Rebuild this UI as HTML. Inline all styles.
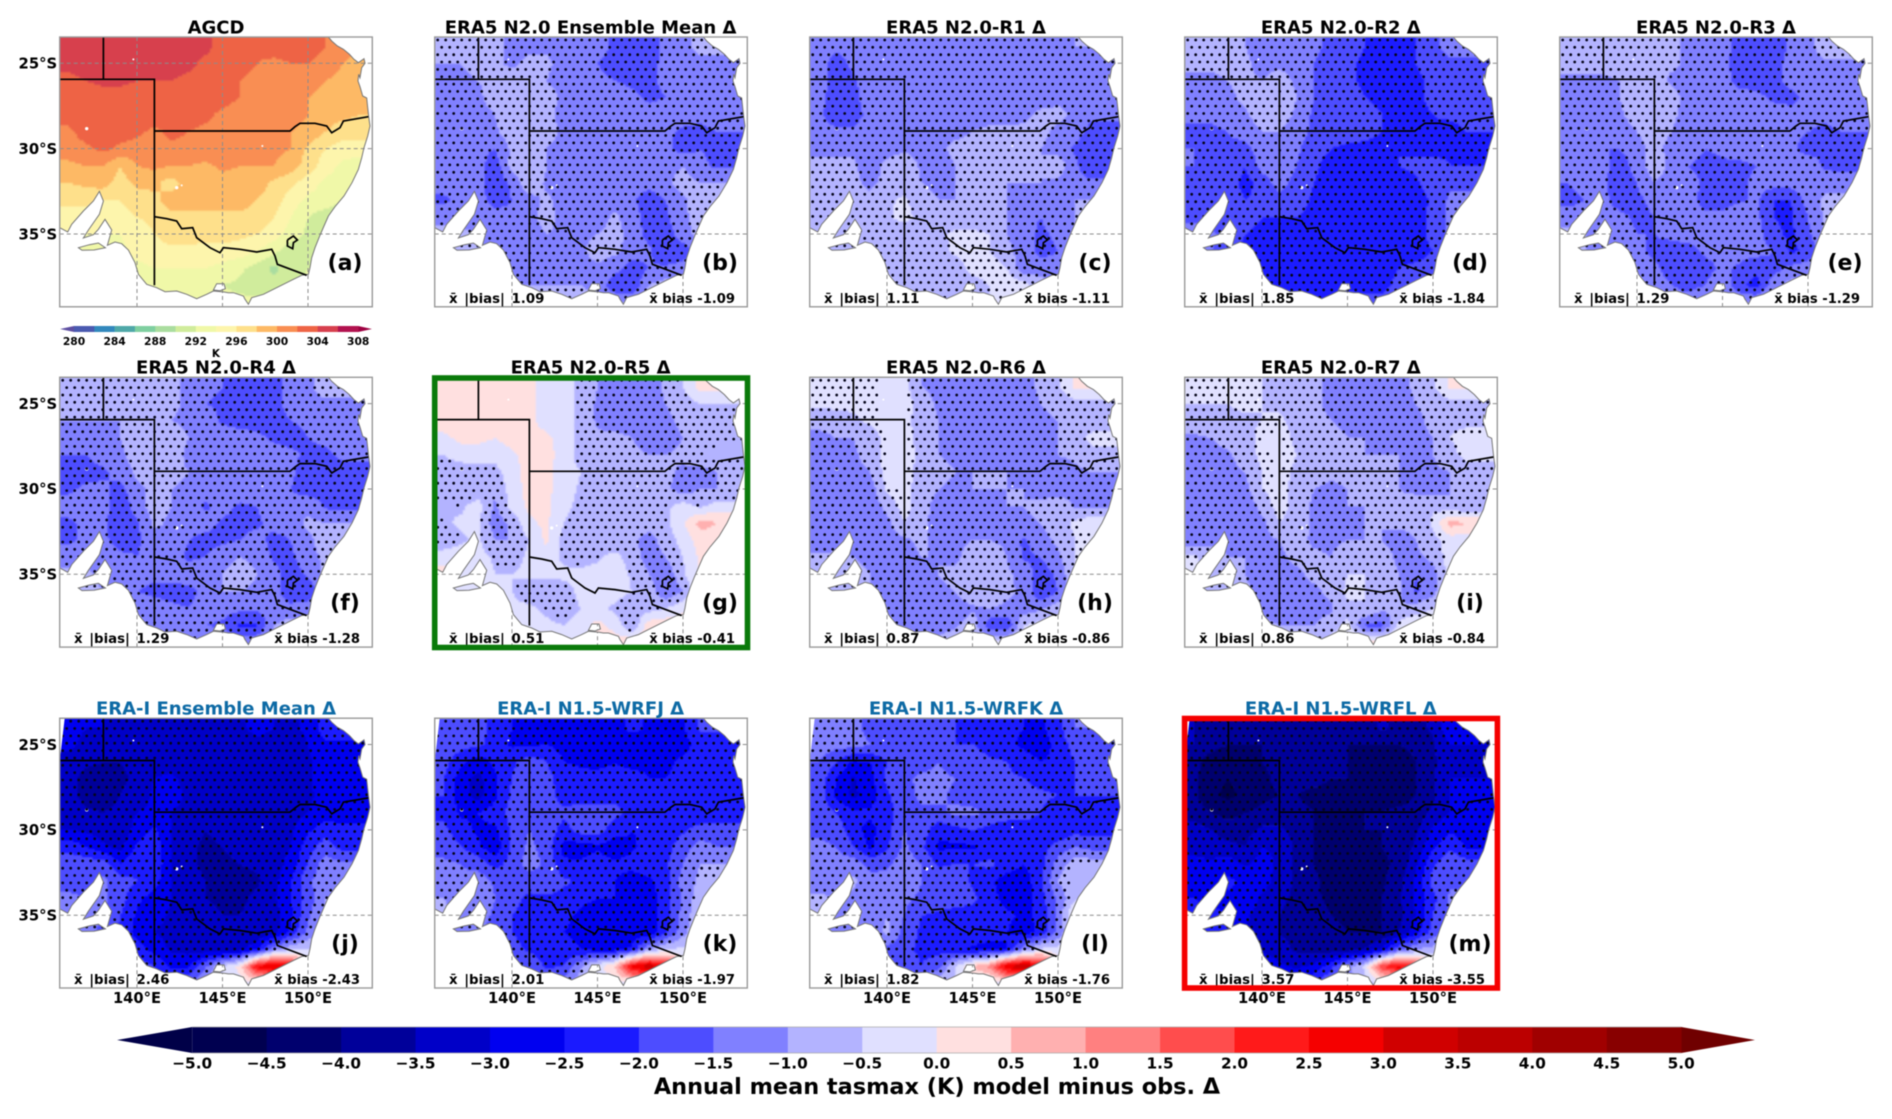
<!DOCTYPE html>
<html lang="en">
<head>
<meta charset="utf-8">
<title>Annual mean tasmax model minus obs</title>
<style>
html,body{margin:0;padding:0;background:#fff;width:1892px;height:1119px;overflow:hidden}
svg{display:block;filter:blur(.55px)}
text{font-family:"DejaVu Sans","Liberation Sans",sans-serif;font-weight:700;fill:#000}
.t{font-size:18px;text-anchor:middle}
.tb{font-size:18px;text-anchor:middle;fill:#0d6aa5}
.bl{font-size:13.3px;word-spacing:2px}
.br{font-size:13.1px;text-anchor:end}
.let{font-size:22px;text-anchor:middle}
.lat{font-size:14.8px;text-anchor:end}
.lon{font-size:14.7px;text-anchor:middle}
</style>
</head>
<body>
<svg id="fig" xmlns="http://www.w3.org/2000/svg" width="1892" height="1119" viewBox="0 0 1892 1119">
<rect width="1892" height="1119" fill="#fff"/>
<defs>
<clipPath id="landClip"><path id="landClipPath" clip-rule="evenodd"/></clipPath>
<filter id="soft" x="-2%" y="-2%" width="104%" height="104%"><feGaussianBlur stdDeviation="0.9"/></filter>
</defs>
<g id="panels"></g>

<text class="t" x="216" y="33.5">AGCD</text>
<text class="t" x="590.6" y="33.5">ERA5 N2.0 Ensemble Mean Δ</text>
<text class="t" x="966" y="33.5">ERA5 N2.0-R1 Δ</text>
<text class="t" x="1340.8" y="33.5">ERA5 N2.0-R2 Δ</text>
<text class="t" x="1716" y="33.5">ERA5 N2.0-R3 Δ</text>
<text class="t" x="216" y="373.5">ERA5 N2.0-R4 Δ</text>
<text class="t" x="590.6" y="373.5">ERA5 N2.0-R5 Δ</text>
<text class="t" x="966" y="373.5">ERA5 N2.0-R6 Δ</text>
<text class="t" x="1340.8" y="373.5">ERA5 N2.0-R7 Δ</text>
<text class="tb" x="216" y="714.5">ERA-I Ensemble Mean Δ</text>
<text class="tb" x="590.6" y="714.5">ERA-I N1.5-WRFJ Δ</text>
<text class="tb" x="966" y="714.5">ERA-I N1.5-WRFK Δ</text>
<text class="tb" x="1340.8" y="714.5">ERA-I N1.5-WRFL Δ</text>

<text class="let" x="345" y="270">(a)</text>
<text class="let" x="720" y="270">(b)</text>
<text class="let" x="1095" y="270">(c)</text>
<text class="let" x="1470" y="270">(d)</text>
<text class="let" x="1845" y="270">(e)</text>
<text class="let" x="345" y="610">(f)</text>
<text class="let" x="720" y="610">(g)</text>
<text class="let" x="1095" y="610">(h)</text>
<text class="let" x="1470" y="610">(i)</text>
<text class="let" x="345" y="951">(j)</text>
<text class="let" x="720" y="951">(k)</text>
<text class="let" x="1095" y="951">(l)</text>
<text class="let" x="1470" y="951">(m)</text>

<text class="bl" x="449" y="303">x̄ |bias| 1.09</text><text class="br" x="735" y="303">x̄ bias -1.09</text>
<text class="bl" x="824" y="303">x̄ |bias| 1.11</text><text class="br" x="1110" y="303">x̄ bias -1.11</text>
<text class="bl" x="1199" y="303">x̄ |bias| 1.85</text><text class="br" x="1485" y="303">x̄ bias -1.84</text>
<text class="bl" x="1574" y="303">x̄ |bias| 1.29</text><text class="br" x="1860" y="303">x̄ bias -1.29</text>
<text class="bl" x="74" y="643">x̄ |bias| 1.29</text><text class="br" x="360" y="643">x̄ bias -1.28</text>
<text class="bl" x="449" y="643">x̄ |bias| 0.51</text><text class="br" x="735" y="643">x̄ bias -0.41</text>
<text class="bl" x="824" y="643">x̄ |bias| 0.87</text><text class="br" x="1110" y="643">x̄ bias -0.86</text>
<text class="bl" x="1199" y="643">x̄ |bias| 0.86</text><text class="br" x="1485" y="643">x̄ bias -0.84</text>
<text class="bl" x="74" y="984">x̄ |bias| 2.46</text><text class="br" x="360" y="984">x̄ bias -2.43</text>
<text class="bl" x="449" y="984">x̄ |bias| 2.01</text><text class="br" x="735" y="984">x̄ bias -1.97</text>
<text class="bl" x="824" y="984">x̄ |bias| 1.82</text><text class="br" x="1110" y="984">x̄ bias -1.76</text>
<text class="bl" x="1199" y="984">x̄ |bias| 3.57</text><text class="br" x="1485" y="984">x̄ bias -3.55</text>

<text x="216" y="357" font-size="10.5" text-anchor="middle">K</text>
<text x="937" y="1094" font-size="22.4" text-anchor="middle">Annual mean tasmax (K) model minus obs. Δ</text>

<rect x="434.7" y="378" width="312.8" height="269.5" fill="none" stroke="#0a7a0a" stroke-width="5.6"/>
<rect x="1184.6" y="718.5" width="312.8" height="269.5" fill="none" stroke="#f50000" stroke-width="5.6"/>
</svg>

<script>
// Gridded values: rows run 24S to 39S, columns run 136E to 153E (one degree apart)
const fieldA=[
[305,305,305,305,305,305,305,305,304.5,303.3,303,302.5,303,303,303,302,301,300],
[304.5,305,305,305,305,305,305,304.5,303.5,303,302.5,302,301.5,302,302,301,300,299],
[303.5,304,304.5,304.5,304,304,304,303.5,303,302.8,302,301.5,301,301,300.5,300,299.5,299],
[303,303,303,303,303,303,303,303,303,302.8,302,301,301,300.5,300,299.5,298.5,298],
[303,303,303,303,303,303,302.5,303,302.5,301.5,301,301,301,300.5,300,299,298.5,298],
[301.5,303,303,303,302.5,301.5,302.5,302,301.5,301,301,301,300.5,300,299.5,298,297,297],
[301,301.5,302.5,301.5,301,301,301.5,301.5,301.5,301.5,301,301,300.5,300,297.5,296,295,295],
[299.5,300,300,298,300,300.5,300,300,299.5,300.5,300,300,300,299,297,295,293.5,293],
[298,298.5,299,297,298.5,298.5,297,299,299,299,299,299,297.5,296.5,295,293.5,293,293],
[296.5,296.5,296,296,297,297.5,299,299,299,299,299,298,297,295,293.5,293,292,292],
[295,295,295,295,296,296.5,297.5,297.5,297.5,297.5,297.5,297,296,294,292,291,291,291],
[294,294,294,294,295,296,297,297,297,297,296.5,296,295,293,291.5,291.5,291.5,291.5],
[293,293,293,293.5,294.5,295,295.5,295.5,295,295,295,294,292.5,290.5,291.5,292,292,292],
[293,293,293,293,293.5,294,294,294,294,293.5,292.5,291,289.5,291,292,292,292,292],
[293,293,293,293,293,293.5,293,293,292.5,292,291.5,291,290.5,292,292.5,292.5,292.5,292.5],
[292.5,292.5,292.5,292.5,292.5,292.5,292.5,292.5,292.5,292.5,292.5,292.5,292.5,292.5,292.5,292.5,292.5,292.5]];
const fieldB=[
[-.9,-.9,-.9,-.9,-1.1,-1.1,-1.1,-1.1,-1.2,-1.3,-1.6,-1.9,-1.7,-1.4,-1.2,-.8,-.8,-.8],
[-1,-1,-.9,-.9,-1.1,-.9,-.9,-1.2,-1.3,-1.5,-1.7,-1.7,-1.5,-1.5,-1.3,-1.2,-1.2,-1.2],
[-1.1,-1.1,-1,-.9,-.8,-.8,-1,-1.2,-1.3,-1.4,-1.5,-1.6,-1.6,-1.4,-1.3,-1.3,-1.3,-1.3],
[-1.1,-1.1,-1.1,-.8,-.5,-.6,-.8,-1.1,-1.2,-1.3,-1.3,-1.4,-1.6,-1.5,-1.3,-1.3,-1.3,-1.3],
[-1.3,-1.3,-1.2,-1,-.5,-.5,-.8,-1.2,-1.2,-1.2,-1.2,-1.3,-1.3,-1.3,-1.3,-1.4,-1.3,-1.3],
[-1.4,-1.4,-1.3,-1.1,-.7,-.7,-.8,-1.1,-1.2,-1.2,-1.2,-1.2,-1.3,-1.4,-1.6,-1.6,-1.5,-1.5],
[-1.3,-1.4,-1.4,-1.5,-.9,-.7,-1,-1.2,-1.2,-1.2,-1.2,-1.3,-1.3,-1.4,-1.7,-1.5,-1.6,-1.6],
[-1.2,-1.3,-1.3,-1.8,-.8,-.5,-1,-1.2,-1.2,-1.3,-1.3,-1.3,-1.3,-1.2,-1,-1.4,-1.6,-1.6],
[-1.3,-1.2,-1.3,-1.9,-1.4,-.6,-1.1,-1.3,-1.3,-1.2,-1.3,-1.3,-1.3,-1.1,-.8,-1,-1,-1],
[-1.6,-1.4,-1.3,-1.7,-1.5,-1.2,-.9,-1.2,-1.3,-1.3,-1.2,-1.4,-1.8,-1.5,-1.1,-.7,-.8,-.8],
[-1.2,-1.2,-1.2,-1.3,-1.4,-1.2,-.8,-1.2,-1.3,-1.3,-.9,-1.3,-1.7,-1.6,-1.1,-.8,-.8,-.8],
[-.8,-.9,-1,-1.3,-1.3,-1.2,-1,-1.1,-1.1,-1,-.8,-1.2,-1.7,-1.8,-1.2,-.8,-.8,-.8],
[-.9,-.9,-1,-1.2,-1.3,-1.3,-1.4,-1.4,-1.1,-.8,-.9,-1.2,-1.4,-2,-1.8,-1.2,-.9,-.9],
[-.9,-.9,-1,-1.2,-1.2,-1.3,-1.3,-1.3,-1.2,-1.1,-1.3,-1.8,-1.5,-1.4,-1.3,-1.1,-.9,-.9],
[-.9,-.9,-.9,-1,-1,-1,-1,-1,-1,-1.1,-1.9,-2,-1,-.8,-.8,-.8,-.8,-.8],
[-.9,-.9,-.9,-.9,-.9,-.9,-.9,-.9,-.9,-.9,-1,-1,-.7,-.7,-.7,-.7,-.7,-.7]];
const fieldC=[
[-1.3,-1.4,-1.4,-1.2,-1.2,-1.5,-1.5,-1.5,-1.4,-1.3,-1.2,-1.2,-1.2,-1.2,-1.2,-1,-1,-1],
[-1.3,-1.7,-1.4,-1.2,-1.2,-1.3,-1.3,-1.3,-1.3,-1.3,-1.2,-1.5,-1.5,-1.3,-1.2,-1.2,-1.2,-1.2],
[-1.3,-1.7,-1.6,-1.2,-1.2,-1.2,-1.2,-1.3,-1.2,-1.2,-1.2,-1.4,-1.4,-1.2,-1.1,-1.2,-1.2,-1.2],
[-1.3,-1.8,-1.7,-1.2,-1.2,-1.2,-1.1,-1.3,-1.4,-1.2,-1.2,-1.2,-1.2,-1.2,-1.1,-1.2,-1.3,-1.3],
[-1.4,-1.8,-1.8,-1.3,-1.1,-1.2,-1.2,-1.3,-1.3,-1.2,-1.2,-1.2,-1.1,-.9,-.9,-1.1,-1.4,-1.4],
[-1.3,-1.4,-1.4,-1.2,-1.1,-1.1,-1.1,-1.1,-1.1,-1,-.9,-.9,-.9,-.9,-1.1,-1.3,-1.7,-1.7],
[-1.1,-1.1,-1.1,-1.2,-1.3,-1.1,-1.2,-1.1,-.9,-.9,-.9,-.9,-.9,-1,-1.2,-1.6,-1.9,-1.9],
[-.9,-.9,-.9,-1.3,-.8,-.6,-1.1,-1.2,-1,-.9,-.9,-1,-1,-1,-.7,-1.4,-1.9,-1.9],
[-.9,-.9,-.9,-1.1,-.9,-.8,-1,-1.1,-1,-.9,-1,-1,-1,-1,-1.1,-1.4,-1.4,-1.4],
[-1,-.9,-.9,-.9,-.6,-.4,-.9,-1,-1,-1,-1,-1,-1.3,-1.5,-1.2,-1,-1,-1],
[-.9,-.9,-.9,-1,-.6,-.3,-.7,-.9,-.8,-.8,-.9,-1,-1.4,-1.5,-1.2,-1,-1,-1],
[-.7,-.8,-.9,-.9,-1,-.9,-.7,-.6,-.4,-.4,-.5,-1,-1.3,-1.6,-1.4,-1,-1,-1],
[-.9,-.9,-.9,-.9,-.9,-.9,-.9,-.7,-.4,-.3,-.5,-.9,-1.2,-1.7,-1.5,-1.1,-1,-1],
[-.9,-.9,-.9,-.9,-.9,-.9,-.9,-.9,-.8,-.3,-.2,-.5,-1.4,-1.2,-1.3,-1.1,-1,-1],
[-.9,-.9,-.9,-.9,-.9,-.9,-.9,-.9,-.9,-.8,-.5,-.2,-.3,-.8,-1,-1,-1,-1],
[-.8,-.8,-.8,-.8,-.8,-.8,-.8,-.8,-.8,-.7,-.5,-.3,-.5,-.7,-.8,-.8,-.8,-.8]];
const fieldD=[
[-1,-1,-1,-1,-1.2,-1.2,-1.2,-1.4,-1.6,-1.8,-2,-2.2,-2.2,-2,-1.7,-1.2,-1.2,-1.2],
[-.9,-.9,-.9,-.9,-1.2,-1.1,-1.2,-1.5,-1.7,-1.9,-2.1,-2.2,-2.2,-2,-1.8,-1.7,-1.7,-1.7],
[-1.1,-1.1,-1,-.9,-1,-.8,-1.1,-1.5,-1.7,-1.9,-2.1,-2.2,-2.2,-2.1,-1.9,-1.8,-1.8,-1.8],
[-1.2,-1.2,-1.1,-.9,-.7,-.7,-1,-1.5,-1.7,-1.8,-2,-2.1,-2.2,-2.1,-1.9,-1.8,-1.8,-1.8],
[-1.4,-1.4,-1.3,-1.1,-.7,-.7,-1.1,-1.6,-1.7,-1.8,-1.9,-2,-2.1,-2.1,-2,-1.9,-1.8,-1.8],
[-1.6,-1.6,-1.5,-1.3,-1,-1,-1.3,-1.6,-1.8,-1.8,-1.9,-2,-2.1,-2.1,-2.1,-2.2,-2,-2],
[-1.5,-1.6,-1.6,-1.7,-1.2,-1,-1.4,-1.8,-2,-2.1,-2.1,-2.1,-2,-2.1,-2.2,-2.1,-2.1,-2.1],
[-1.5,-1.5,-1.5,-2,-1.3,-1,-1.5,-1.9,-2.2,-2.2,-2.2,-2.1,-2,-1.9,-1.8,-2,-2,-2],
[-1.9,-1.8,-1.7,-2.2,-1.8,-1.3,-1.7,-2,-2.2,-2.3,-2.3,-2.2,-2.2,-2.1,-1.7,-1.6,-1.6,-1.6],
[-2,-1.9,-1.7,-2,-1.9,-1.7,-1.7,-2.1,-2.2,-2.3,-2.2,-2.2,-2.4,-2.3,-1.9,-1.4,-1.4,-1.4],
[-1.6,-1.7,-1.7,-1.8,-2,-2,-2,-2.2,-2.3,-2.3,-2.1,-2.3,-2.45,-2.3,-1.8,-1.4,-1.4,-1.4],
[-1.3,-1.4,-1.7,-2,-2.2,-2.3,-2.3,-2.3,-2.2,-2.1,-2.1,-2.2,-2.3,-2.3,-1.8,-1.4,-1.4,-1.4],
[-1.5,-1.5,-1.7,-2.2,-2.4,-2.4,-2.4,-2.4,-2.3,-2.1,-2.2,-2.2,-2.2,-2.2,-2,-1.5,-1.4,-1.4],
[-1.5,-1.5,-1.7,-2,-2.4,-2.45,-2.45,-2.4,-2.4,-2.3,-2.4,-2.45,-2,-1.9,-1.8,-1.5,-1.4,-1.4],
[-1.5,-1.5,-1.5,-1.7,-2.3,-2.45,-2.45,-2.45,-2.3,-2.2,-2.3,-2.4,-1.7,-1.4,-1.4,-1.4,-1.4,-1.4],
[-1.5,-1.5,-1.5,-1.7,-1.9,-2,-2.2,-2.2,-2,-1.7,-1.7,-1.6,-1.3,-1.3,-1.3,-1.3,-1.3,-1.3]];
const fieldE=[
[-.9,-.8,-.8,-.8,-.8,-.9,-.9,-1.1,-1.2,-1.3,-1.7,-1.9,-1.8,-1.4,-1.2,-.7,-.7,-.7],
[-.8,-.8,-.8,-.8,-.8,-.9,-.9,-1.1,-1.2,-1.4,-1.7,-1.8,-1.6,-1.4,-1.2,-1.1,-1.1,-1.1],
[-1.1,-1.1,-1.1,-1,-.9,-.8,-1.1,-1.2,-1.2,-1.3,-1.7,-1.7,-1.6,-1.4,-1.3,-1.2,-1.2,-1.2],
[-1.3,-1.3,-1.2,-1,-.7,-.5,-.8,-1.2,-1.2,-1.2,-1.3,-1.4,-1.6,-1.6,-1.4,-1.3,-1.3,-1.3],
[-1.4,-1.4,-1.3,-1.1,-.7,-.5,-.9,-1.2,-1.2,-1.2,-1.2,-1.3,-1.3,-1.4,-1.4,-1.4,-1.3,-1.3],
[-1.5,-1.5,-1.4,-1.3,-1,-.9,-1,-1.2,-1.3,-1.3,-1.2,-1.2,-1.3,-1.4,-1.5,-1.6,-1.5,-1.5],
[-1.4,-1.5,-1.5,-1.5,-1.1,-.9,-1.1,-1.3,-1.5,-1.4,-1.3,-1.3,-1.3,-1.4,-1.7,-1.6,-1.7,-1.7],
[-1.3,-1.4,-1.3,-1.9,-1.2,-.8,-1.1,-1.5,-1.7,-1.6,-1.6,-1.5,-1.3,-1.3,-1.2,-1.6,-1.7,-1.7],
[-1.5,-1.3,-1.3,-2,-1.5,-1,-1.2,-1.3,-1.6,-1.7,-1.6,-1.4,-1.3,-1.3,-1,-1.2,-1.2,-1.2],
[-1.7,-1.5,-1.4,-1.7,-1.6,-1.4,-1.2,-1.3,-1.7,-1.7,-1.6,-1.4,-2,-2,-1.3,-.9,-.9,-.9],
[-1.2,-1.2,-1.3,-1.4,-1.6,-1.5,-1.3,-1.3,-1.4,-1.4,-1.1,-1.4,-2,-2.1,-1.5,-.9,-.9,-.9],
[-.9,-1,-1.1,-1.3,-1.5,-1.5,-1.4,-1.3,-1.3,-1.2,-1,-1.3,-1.9,-2.1,-1.6,-1,-1,-1],
[-1,-1,-1.1,-1.3,-1.4,-1.6,-1.7,-1.7,-1.4,-1.3,-1.3,-1.3,-1.5,-2.1,-1.9,-1.2,-1,-1],
[-1,-1,-1,-1.2,-1.3,-1.4,-1.7,-1.8,-1.7,-1.4,-1.6,-1.9,-1.7,-1.4,-1.2,-1.1,-1,-1],
[-1,-1,-1,-1.1,-1.2,-1.3,-1.5,-1.7,-1.5,-1.1,-1.9,-2.2,-1.2,-.8,-.9,-.9,-.9,-.9],
[-1,-1,-1,-1,-1,-1.1,-1.2,-1.2,-1,-.9,-1,-1,-.8,-.8,-.8,-.8,-.8,-.8]];
const fieldF=[
[-1,-1,-1,-.9,-.9,-.9,-.9,-1.1,-1.4,-1.5,-1.7,-1.9,-1.7,-1.3,-1.2,-.6,-.6,-.6],
[-1,-1,-1,-.9,-.9,-.9,-.9,-1.1,-1.5,-1.6,-1.6,-1.6,-1.6,-1.4,-1.3,-1.2,-1.2,-1.2],
[-1,-1,-1,-1,-.9,-.8,-1,-1.1,-1.2,-1.6,-1.7,-1.7,-1.6,-1.5,-1.4,-1.3,-1.3,-1.3],
[-1.1,-1.1,-1.1,-1,-.8,-.7,-.8,-1,-1.1,-1.2,-1.3,-1.4,-1.6,-1.7,-1.5,-1.4,-1.3,-1.3],
[-1.5,-1.5,-1.3,-1.1,-.8,-.7,-.8,-1.1,-1.1,-1.1,-1.2,-1.2,-1.3,-1.4,-1.6,-1.6,-1.4,-1.4],
[-1.7,-1.7,-1.6,-1.3,-.9,-.8,-.9,-1,-1.1,-1.1,-1.1,-1.2,-1.3,-1.4,-1.8,-1.8,-1.7,-1.7],
[-1.6,-1.4,-1.4,-1.7,-1.1,-.9,-1,-1.1,-1.3,-1.1,-1.1,-1.2,-1.3,-1.5,-1.8,-1.7,-1.8,-1.8],
[-1.3,-1.3,-1.2,-2,-1.2,-.8,-1,-1.2,-1.6,-1.3,-1.6,-1.5,-1.3,-1.3,-1.1,-1.6,-1.7,-1.7],
[-1.6,-1.4,-1.4,-1.9,-1.6,-.9,-1.1,-1.2,-1.3,-1.6,-1.7,-1.6,-1.3,-1.2,-.9,-1,-1,-1],
[-1.6,-1.4,-1.4,-1.7,-1.6,-1.2,-1.1,-1.5,-1.7,-1.6,-1.5,-1.3,-1.7,-1.5,-1.1,-.8,-.8,-.8],
[-1.2,-1.2,-1.2,-1.4,-1.5,-1.3,-1.3,-1.6,-1.5,-1.2,-1,-1.1,-1.6,-1.6,-1.2,-.9,-.9,-.9],
[-.9,-.9,-1.1,-1.3,-1.4,-1.4,-1.3,-1.2,-1.2,-1,-.8,-1,-1.3,-1.8,-1.4,-.9,-.9,-.9],
[-.9,-.9,-1,-1.3,-1.5,-1.6,-1.7,-1.7,-1.3,-1,-1,-1.1,-1.2,-2,-1.9,-1.2,-1,-1],
[-1,-1,-1,-1.2,-1.3,-1.3,-1.4,-1.5,-1.3,-1.3,-1.4,-1.4,-1.3,-1.3,-1.2,-1.1,-1,-1],
[-1,-1,-1,-1,-1.1,-1.2,-1.2,-1.4,-1.5,-1.6,-2.1,-2.1,-1,-.8,-.8,-.8,-.8,-.8],
[-.9,-.9,-.9,-.9,-1,-1,-1,-1,-1,-1,-1.1,-1.1,-.8,-.7,-.7,-.7,-.7,-.7]];
const fieldG=[
[.2,.2,.2,.2,.2,.1,-.2,-.3,-.6,-1,-1.4,-1.5,-1.3,-.9,-.5,.2,.2,.2],
[.2,.2,.2,.2,.2,.1,-.2,-.3,-.6,-1.1,-1.5,-1.5,-1.2,-1,-.8,-.5,-.5,-.5],
[.2,.2,.2,.2,.2,.1,-.2,-.3,-.6,-1.1,-1.2,-1.2,-1.3,-1.1,-.9,-.7,-.7,-.7],
[-.1,.1,.1,0,.2,.2,.1,-.2,-.7,-.9,-.9,-1,-1.2,-1.2,-1,-.6,-.6,-.6],
[-.5,-.2,-.2,-.3,-.1,.2,.1,-.1,-.8,-.9,-.9,-.9,-1,-1,-.9,-.6,-.5,-.5],
[-.9,-.9,-.8,-.7,-.2,.2,.1,-.2,-.5,-.8,-.8,-.8,-.8,-.9,-1.1,-1.2,-1,-1],
[-.8,-.9,-.8,-.9,-.3,.2,.1,-.2,-.6,-.7,-.7,-.8,-.8,-.9,-1.3,-1,-1,-1],
[-.5,-.6,-.3,-1.1,-.3,.1,.1,-.3,-.7,-.8,-.8,-.8,-.7,-.6,-.3,-.6,-.3,-.3],
[-.6,-.4,-.4,-1.3,-.9,-.1,.1,-.5,-.9,-.9,-.8,-.8,-.8,-.6,-.1,.7,.5,.5],
[-.9,-.6,-.4,-1,-1,-.5,.1,-.7,-.9,-.9,-.9,-.9,-1.2,-.8,-.3,.2,.2,.2],
[-.2,-.2,-.3,-.6,-.7,-.4,-.2,-.6,-.7,-.6,-.3,-.8,-1.2,-1,-.5,.1,.1,.1],
[.2,-.2,-.2,-.5,-.5,-.4,-.4,-.4,-.4,-.3,-.1,-.6,-1,-1.4,-.6,.1,.1,.1],
[-.2,-.2,-.2,-.3,-.5,-.8,-.9,-.7,-.4,-.2,-.3,-.5,-.7,-1.5,-1,0,0,0],
[-.2,-.2,-.2,-.2,-.4,-.4,-.6,-.8,-.5,-.4,-.6,-.9,-.7,-.5,-.1,.2,.2,.2],
[-.2,-.2,-.2,-.2,-.3,-.3,-.4,-.5,-.3,.2,-.2,-1,.3,.4,.3,.2,.2,.2],
[-.2,-.2,-.2,-.2,-.2,-.2,-.2,-.2,-.1,.2,.3,.4,.4,.3,.2,.2,.2,.2]];
const fieldH=[
[-.4,-.4,-.4,-.4,-.3,-.3,-1,-1.2,-1.3,-1.4,-1.5,-1.4,-1.2,-.9,-.6,.1,.1,.1],
[-.4,-.4,-.4,-.4,-.3,-.3,-.7,-1.1,-1.2,-1.3,-1.4,-1.4,-1.2,-1,-.9,-.7,-.7,-.7],
[-.8,-.7,-.6,-.4,-.3,-.3,-.8,-1,-1.1,-1.3,-1.2,-1.2,-1.3,-1.1,-1,-.7,-.7,-.7],
[-1.2,-1,-1,-.8,-.3,-.3,-.7,-1,-1.2,-1.2,-1.2,-1.2,-1.2,-1.1,-1,-.6,-.4,-.4],
[-1.2,-1.2,-1.1,-.8,-.3,-.3,-.6,-1,-1.1,-1.1,-1.1,-1.1,-1.1,-1.1,-1,-.9,-.6,-.6],
[-1.4,-1.3,-1.2,-1,-.3,-.3,-.7,-.9,-1,-1,-1,-1,-1.1,-1.2,-1.3,-1.1,-1,-1],
[-1.3,-1.3,-1.3,-1.3,-.4,-.3,-.8,-1,-1.1,-1,-1,-1,-1,-1.2,-1.4,-1.1,-1.2,-1.2],
[-1.1,-1.1,-1,-1.4,-.8,-.3,-.8,-1.2,-1.1,-1.1,-1.1,-1,-1,-.9,-.6,-1.1,-1.2,-1.2],
[-1.3,-1.1,-1.1,-1.4,-1.2,-.5,-.9,-1.2,-1.2,-1.1,-1.1,-1,-1.1,-1,-.7,-.4,-.1,-.1],
[-1.5,-1.2,-1.2,-1.2,-1.3,-1.1,-.9,-1.2,-1.1,-1,-1,-1.1,-1.6,-1.2,-.9,-.5,-.5,-.5],
[-.8,-.9,-1,-1.1,-1.2,-1.2,-1,-1,-1.1,-.8,-.7,-1,-1.6,-1.5,-1.1,-.5,-.5,-.5],
[-.6,-.7,-.9,-1,-1.2,-1.2,-1.1,-1,-.9,-.6,-.6,-.9,-1.2,-1.8,-1.4,-.5,-.5,-.5],
[-.7,-.7,-.8,-1,-1.2,-1.2,-1.2,-1.1,-1,-.6,-.7,-.9,-1.1,-2,-1.5,-.5,-.4,-.4],
[-.8,-.8,-.8,-1,-1.2,-1.2,-1.2,-1.3,-1.3,-1.1,-1,-1.1,-1.3,-1.1,-.7,-.3,-.3,-.3],
[-.8,-.8,-.8,-.9,-1,-1.1,-1.2,-1.3,-1.1,-.7,-1.9,-2,-.5,-.3,-.2,-.2,-.2,-.2],
[-.7,-.7,-.7,-.7,-.8,-.8,-.8,-.8,-.6,-.4,-.4,-.4,-.3,-.3,-.2,-.2,-.2,-.2]];
const fieldI=[
[-.5,-.5,-.5,-.4,-.5,-.6,-.8,-.9,-1.1,-1.2,-1.4,-1.3,-1.2,-.9,-.6,.1,.1,.1],
[-.5,-.5,-.5,-.4,-.5,-.6,-.7,-.9,-1.1,-1.2,-1.4,-1.4,-1.2,-1,-.9,-.7,-.7,-.7],
[-.7,-.7,-.6,-.6,-.5,-.4,-.7,-.9,-1,-1.2,-1.2,-1.2,-1.2,-1.1,-.9,-.7,-.7,-.7],
[-1.1,-1,-.8,-.8,-.3,-.3,-.6,-.8,-.8,-1,-1,-1.1,-1.1,-1.1,-1,-.5,-.2,-.2],
[-1.2,-1.2,-1.1,-.7,-.4,-.3,-.5,-.8,-.9,-.9,-1,-1,-1,-1,-1,-.7,-.3,-.3],
[-1.4,-1.3,-1.2,-1,-.5,-.3,-.6,-.8,-.9,-.9,-.9,-.9,-1,-1.1,-1.1,-1,-.8,-.8],
[-1.3,-1.3,-1.3,-1.2,-.5,-.3,-.7,-1,-1.1,-1,-.9,-.9,-1,-1.1,-1.3,-1,-1,-1],
[-1,-1.1,-1,-1.4,-.8,-.3,-.7,-1.1,-1.2,-1,-1,-1,-.9,-.8,-.6,-1,-1,-1],
[-1.2,-1,-1,-1.3,-1.2,-.5,-.7,-1.1,-1.2,-1.1,-1,-1,-.9,-.9,-.4,.7,.5,.5],
[-1.4,-1.1,-1.1,-1.2,-1.2,-1,-.8,-1.1,-1.1,-1,-1,-1,-1.2,-1,-.7,-.3,-.3,-.3],
[-.4,-.8,-1,-1,-1.1,-1.1,-.9,-.9,-1,-.8,-.5,-.8,-1.1,-1.1,-.9,-.2,-.2,-.2],
[-.4,-.5,-.8,-1,-1.2,-1.1,-1.1,-.9,-.9,-.5,-.5,-.8,-1,-1.5,-1.2,-.3,-.3,-.3],
[-.6,-.6,-.7,-.9,-1.2,-1.3,-1.2,-1.1,-.9,-.4,-.5,-.8,-.9,-1.6,-1.2,-.3,-.3,-.3],
[-.7,-.7,-.7,-.9,-1.1,-1.2,-1.2,-1.2,-1.1,-.6,-.5,-.9,-1,-.8,-.5,-.1,-.1,-.1],
[-.7,-.7,-.7,-.8,-.9,-1,-1,-1,-.8,-.4,-1.6,-1.7,-.3,0,.1,.1,.1,.1],
[-.6,-.6,-.6,-.6,-.7,-.7,-.7,-.6,-.3,.2,.2,.2,.2,.1,.1,.1,.1,.1]];
const fieldJ=[
[-2.9,-3,-3,-3.1,-3.2,-3.2,-3.2,-3.3,-3.3,-3.3,-3.2,-2.7,-3,-3.1,-2.9,-2.2,-2.2,-2.2],
[-2.9,-3.1,-3.2,-3.3,-3.3,-3.3,-3.3,-3.3,-3.3,-3.4,-3.4,-3.3,-3.3,-3.3,-3,-2.6,-2.6,-2.6],
[-3.2,-3.4,-3.5,-3.5,-3.4,-3.2,-3.2,-3.3,-3.3,-3.4,-3.4,-3.5,-3.5,-3.4,-3.1,-2.7,-2.7,-2.7],
[-3.3,-3.7,-3.8,-3.6,-3.4,-3,-2.9,-3.2,-3.3,-3.3,-3.4,-3.5,-3.5,-3.3,-3.1,-2.7,-2.7,-2.7],
[-3.3,-3.7,-3.9,-3.5,-3.3,-2.9,-2.8,-3.1,-3.2,-3.3,-3.3,-3.4,-3.4,-3.3,-3.1,-2.8,-2.7,-2.7],
[-3.1,-3.4,-3.5,-3.3,-3,-2.9,-3,-3.2,-3.3,-3.3,-3.3,-3.3,-3.3,-3.2,-3,-2.8,-2.7,-2.7],
[-3,-3.1,-3.3,-3.4,-2.8,-2.4,-3,-3.3,-3.5,-3.4,-3.4,-3.3,-3.2,-3.1,-2.6,-2.2,-2.4,-2.4],
[-2.2,-2.5,-2.9,-3.2,-2.4,-2.2,-3,-3.4,-3.6,-3.5,-3.4,-3.3,-3.3,-3,-2.2,-1.8,-2.2,-2.2],
[-1.6,-1.7,-1.7,-2.5,-2.1,-2.1,-3,-3.4,-3.6,-3.6,-3.5,-3.4,-3.3,-2.8,-2,-1.2,-1.4,-1.4],
[-1.7,-1.7,-1.4,-1.8,-2,-2.3,-3,-3.3,-3.5,-3.7,-3.7,-3.6,-3.2,-2.5,-1.6,-1.2,-1.2,-1.2],
[-1.4,-1.5,-1.4,-1.8,-2.4,-2.7,-3,-3.3,-3.5,-3.6,-3.6,-3.4,-3.1,-2.5,-1.8,-1,-1,-1],
[-1.2,-1.3,-1.5,-2,-2.6,-2.8,-3.1,-3.3,-3.4,-3.5,-3.5,-3.4,-3.3,-2.6,-1.6,-1,-1,-1],
[-1.4,-1.4,-1.6,-2.1,-2.7,-3,-3.2,-3.3,-3.4,-3.4,-3.4,-3.5,-3.2,-2.4,-1.4,-.8,-.8,-.8],
[-1.4,-1.4,-1.5,-1.9,-2.3,-2.7,-3.1,-3.2,-3.3,-3.4,-3.2,-2.6,-1.2,-.6,-.5,-.4,-.4,-.4],
[-1.3,-1.3,-1.3,-1.4,-1.7,-2,-2.6,-2.6,-1.6,-.5,.2,2.6,3.2,2.6,.5,0,0,0],
[-1.2,-1.2,-1.2,-1.2,-1.4,-1.5,-1.6,-1.5,-.9,-.5,-.3,-.2,-.2,-.2,-.2,-.2,-.2,-.2]];
const fieldK=[
[-1.6,-1.6,-1.8,-2.2,-2.5,-2.7,-2.8,-2.9,-2.9,-2.9,-2.8,-2.3,-2.6,-2.8,-2.6,-1.9,-1.9,-1.9],
[-1.6,-1.8,-1.9,-2.2,-2.6,-2.6,-2.5,-2.7,-2.9,-2.9,-2.9,-2.9,-2.9,-2.9,-2.7,-2.3,-2.3,-2.3],
[-1.8,-2.4,-2.8,-2.4,-2.1,-1.8,-2,-2.5,-2.6,-2.7,-2.6,-2.7,-2.6,-2.6,-2.4,-2.2,-2.2,-2.2],
[-2,-2.8,-3.2,-2.6,-2,-1.7,-1.8,-2.3,-2.3,-2.3,-2,-2.3,-2.5,-2.5,-2.4,-2.2,-2.2,-2.2],
[-2,-2.8,-3.2,-2.6,-1.9,-1.7,-1.8,-2.2,-2.2,-2.1,-2.1,-2.3,-2.5,-2.5,-2.4,-2.3,-2.2,-2.2],
[-2.1,-2.6,-2.5,-2.3,-1.8,-1.6,-1.7,-1.9,-1.8,-1.9,-1.9,-2.1,-2.4,-2.5,-2.5,-2.4,-2.2,-2.2],
[-1.9,-2.3,-2.6,-2.6,-1.9,-1.5,-1.7,-2.2,-1.8,-1.8,-2.2,-2.5,-2.4,-2.4,-2.1,-1.8,-1.9,-1.9],
[-1.7,-2,-2.4,-2.9,-1.9,-1.4,-1.7,-2.7,-2.8,-2.6,-2.9,-2.6,-2.3,-2.2,-1.7,-1.3,-1.5,-1.5],
[-1.4,-1.5,-1.7,-2.2,-1.8,-1.3,-1.6,-2.4,-2.4,-2.2,-2.4,-2.3,-2.2,-2.1,-1.5,-1,-1,-1],
[-1.4,-1.4,-1.2,-1.6,-1.8,-1.8,-1.6,-1.9,-2.1,-2.3,-2.5,-2.8,-2.6,-2.2,-1.3,-.9,-.9,-.9],
[-1,-1.2,-1.1,-1.5,-1.9,-2.1,-2.1,-2.2,-2.4,-2.5,-2.5,-2.7,-2.8,-2.2,-1.4,-.7,-.7,-.7],
[-.9,-1.1,-1.3,-1.6,-2,-2.1,-2.3,-2.4,-2.6,-2.7,-2.7,-2.7,-2.7,-2.3,-1.3,-.6,-.6,-.6],
[-1.2,-1.2,-1.4,-1.7,-2,-2.3,-2.4,-2.5,-2.6,-2.7,-2.7,-2.9,-2.9,-2.1,-1.2,-.5,-.5,-.5],
[-1.2,-1.2,-1.3,-1.5,-1.8,-2.1,-2.3,-2.4,-2.5,-2.7,-2.7,-2.4,-1,-.5,-.4,-.3,-.3,-.3],
[-1.1,-1.1,-1.1,-1.2,-1.4,-1.6,-2.1,-2,-1.1,-.2,.5,2.8,3.4,2.7,.5,0,0,0],
[-1,-1,-1,-1,-1.2,-1.3,-1.3,-1.2,-.7,-.5,-.3,-.2,-.2,-.2,-.2,-.2,-.2,-.2]];
const fieldL=[
[-1.2,-1.2,-1.3,-1.7,-1.7,-1.7,-1.7,-1.9,-2,-2.2,-2.4,-2.4,-2.5,-2.6,-2.2,-1.5,-1.5,-1.5],
[-1.2,-1.3,-1.3,-1.5,-1.6,-1.7,-1.7,-1.9,-2,-2,-2.3,-2.4,-2.6,-2.8,-2.3,-1.8,-1.8,-1.8],
[-1.5,-2,-2.6,-2.5,-2,-1.7,-1.7,-1.5,-1.7,-1.7,-1.9,-2,-2.3,-2.5,-2.4,-2,-2,-2],
[-1.7,-2.5,-3.1,-2.7,-1.9,-1.6,-1.4,-1.4,-1.5,-1.7,-1.7,-1.9,-2,-2.2,-2.2,-2,-2,-2],
[-1.7,-2.6,-3.1,-2.8,-2.1,-1.7,-1.4,-1.4,-1.6,-1.7,-1.7,-1.8,-1.8,-1.9,-2,-2,-2,-2],
[-1.7,-2,-2.4,-2.4,-2.2,-1.7,-1.6,-1.6,-1.4,-1.4,-1.6,-1.7,-1.8,-2,-2.4,-2.4,-2.3,-2.3],
[-1.6,-1.7,-2.3,-2.7,-2.2,-1.5,-1.7,-2.4,-2.2,-2,-2.2,-2.4,-2.3,-2.3,-2.5,-2.2,-2.2,-2.2],
[-1.4,-1.5,-2,-2.6,-2.1,-1.4,-1.9,-2.6,-2.6,-2.6,-2.3,-2.2,-2.1,-2.2,-1.8,-1.5,-1.7,-1.7],
[-1.3,-1.3,-1.2,-1.7,-1.6,-1.2,-1.5,-2.1,-2,-2,-1.9,-2.2,-2.5,-2.2,-1.3,-.7,-.7,-.7],
[-1.3,-1.2,-.9,-1.3,-1.3,-1,-1.5,-1.7,-1.7,-2.1,-2.4,-2.8,-2.8,-2.1,-1,-.5,-.5,-.5],
[-.9,-1,-1.1,-1.3,-1.4,-1.4,-1.6,-1.7,-1.8,-1.9,-2.3,-2.7,-2.8,-2.2,-1.4,-.6,-.6,-.6],
[-.8,-1,-1.2,-1.4,-1,-1.5,-2,-2.1,-2.2,-2.2,-2.3,-2.4,-2.6,-2.4,-1.4,.2,.2,.2],
[-1.2,-1.2,-1.2,-1.3,-.9,-1.7,-2.1,-2.2,-2.2,-2.2,-2.3,-2.5,-2.8,-2.3,-1.4,-.2,-.2,-.2],
[-1.2,-1.2,-1.2,-1.5,-1.7,-1.9,-2.1,-2.2,-2.4,-2.6,-2.7,-2.5,-1.2,-.4,-.3,-.3,-.3,-.3],
[-1.2,-1.2,-1.2,-1.3,-1.5,-1.7,-2,-1.7,-.5,.5,1.2,3,3.6,2.8,.5,0,0,0],
[-1,-1,-1,-1,-1,-1,-.8,-.6,-.5,-.4,-.4,-.2,-.2,-.2,-.2,-.2,-.2,-.2]];
const fieldM=[
[-3.5,-3.6,-3.7,-3.8,-3.8,-3.8,-3.8,-3.9,-3.9,-3.9,-3.8,-3.4,-3.7,-3.7,-3.4,-2.6,-2.6,-2.6],
[-3.5,-3.8,-4,-4,-4,-3.9,-3.9,-3.9,-4,-4,-4,-4,-4,-3.9,-3.6,-3,-3,-3],
[-3.8,-4.3,-4.5,-4.3,-4,-3.9,-3.9,-3.9,-3.9,-4,-4.1,-4.2,-4.2,-4,-3.6,-3.1,-3.1,-3.1],
[-3.9,-4.4,-4.5,-4.4,-4.1,-3.9,-3.9,-3.9,-4,-4,-4.1,-4.2,-4.2,-4,-3.6,-3,-3,-3],
[-3.9,-4.4,-4.6,-4.4,-4.1,-4,-4,-4.1,-4.1,-4.1,-4.1,-4.1,-4.2,-4,-3.6,-3,-3,-3],
[-3.7,-4,-4.2,-4,-3.9,-3.8,-3.9,-4,-4,-4,-4,-4,-3.9,-3.8,-3.4,-3,-2.9,-2.9],
[-3.3,-3.5,-3.7,-3.7,-3.4,-3.4,-3.7,-4,-4.2,-4.1,-4,-4,-3.9,-3.6,-2.9,-2.6,-2.7,-2.7],
[-3.1,-3.3,-3.4,-3.5,-3,-3.1,-3.6,-4,-4.2,-4.2,-4.1,-4,-3.9,-3.4,-2.6,-2.1,-2.6,-2.6],
[-2.9,-2.9,-2.7,-3.1,-2.8,-3.1,-3.6,-4,-4.2,-4.2,-4.2,-4.1,-3.9,-3.1,-2.1,-1.6,-1.8,-1.8],
[-2.9,-2.8,-2.4,-2.6,-2.8,-3.2,-3.6,-3.9,-4.2,-4.3,-4.3,-4.1,-3.7,-2.9,-1.8,-1.6,-1.6,-1.6],
[-2.5,-2.6,-2.6,-2.6,-3.1,-3.4,-3.6,-3.9,-4.1,-4.2,-4.2,-4,-3.6,-2.9,-2.2,-1.4,-1.4,-1.4],
[-2.4,-2.4,-2.5,-2.9,-3.3,-3.5,-3.7,-3.8,-4,-4.1,-4.1,-4,-3.7,-3,-2,-1.4,-1.4,-1.4],
[-2,-2,-2.3,-3,-3.4,-3.5,-3.7,-3.8,-3.9,-4,-4,-4,-3.5,-2.7,-1.8,-1.2,-1.2,-1.2],
[-2,-2,-2.2,-2.7,-3.1,-3.3,-3.6,-3.7,-3.8,-3.7,-3.5,-2.9,-1.6,-1,-.8,-.6,-.6,-.6],
[-2,-2,-2,-2.2,-2.6,-2.9,-3.1,-2.9,-2.2,-1.2,-.4,2,2.8,2,.2,-.2,-.2,-.2],
[-2,-2,-2,-2,-2.2,-2.3,-2.2,-2,-1.5,-1.2,-.8,-.4,-.4,-.4,-.4,-.4,-.4,-.4]];

// Colour bar tick labels and bin colours
const deltaTicks=[-5,-4.5,-4,-3.5,-3,-2.5,-2,-1.5,-1,-.5,0,.5,1,1.5,2,2.5,3,3.5,4,4.5,5];
const deltaColors=['#000048','#000050','#00006e','#00009a','#0000c8','#0000f0','#1a1aff','#4d4dff','#8080ff','#b3b3ff','#e0e0ff','#ffe0e0','#ffb0b0','#ff8080','#ff4d4d','#ff1a1a','#f50000','#d00000','#bb0000','#a00000','#880000','#700000'];
const kelvinTicks=[280,284,288,292,296,300,304,308];
const kelvinColors=['#5e4fa2','#4a5ab0','#3288bd','#4fa8a8','#7fcfa0','#aadd9f','#d0ec9c','#f0f8a8','#fdf5ac','#fee08b','#fdb965','#f98e52','#ee6445','#d7404e','#b2124f','#9e0142'];
const latTicks=[25,30,35];
const lonTicks=[140,145,150];

// Base map outline (panel units ×3)
const coastOutline=[[179,113],[985,113],[995,125],[1012,140],[1030,150],[1048,165],[1062,180],[1075,190],[1092,178],[1095,192],[1085,205],[1080,235],[1076,225],[1074,245],[1080,262],[1088,290],[1100,296],[1103,325],[1106,352],[1110,380],[1103,410],[1092,445],[1085,475],[1075,510],[1056,550],[1032,590],[1005,622],[985,650],[972,680],[958,712],[945,745],[935,775],[930,805],[925,825],[905,828],[880,840],[850,855],[820,870],[790,885],[755,895],[745,915],[735,900],[730,890],[700,880],[685,880],[672,878],[640,875],[620,885],[590,898],[560,885],[530,875],[495,877],[470,865],[440,855],[415,825],[405,790],[385,752],[365,733],[345,728],[322,738],[335,692],[315,660],[295,690],[280,706],[250,716],[265,692],[298,645],[310,605],[298,576],[280,605],[250,635],[215,675],[203,698],[179,685]];
const kangarooIsland=[[235,745],[268,736],[295,731],[316,745],[282,752],[246,753]];
const portPhillip=[[640,872],[650,853],[672,853],[676,868],[660,874]];
const borderLines=[
[[310,113],[310,240]],
[[179,240],[463,240],[463,858]],
[[463,395],[870,395],[885,382],[900,372],[945,372],[980,380],[995,400],[1020,385],[1030,365],[1105,352]],
[[463,652],[500,658],[530,665],[545,688],[578,685],[590,715],[630,745],[660,760],[670,745],[720,750],[770,758],[815,750],[825,770],[832,795],[920,828]],
[[862,722],[880,710],[892,722],[880,730],[878,748],[862,740],[862,722]]];
const lakeSpecks=[[260,388,5],[530,565,5],[787,440,3],[400,180,3],[545,558,3]];

const panelGrid=[
{id:'a',col:0,row:0,field:fieldA,kind:'K',stipple:null},
{id:'b',col:1,row:0,field:fieldB,kind:'D',stipple:-.3},
{id:'c',col:2,row:0,field:fieldC,kind:'D',stipple:-.15},
{id:'d',col:3,row:0,field:fieldD,kind:'D',stipple:-.3},
{id:'e',col:4,row:0,field:fieldE,kind:'D',stipple:-.3},
{id:'f',col:0,row:1,field:fieldF,kind:'D',stipple:-.3},
{id:'g',col:1,row:1,field:fieldG,kind:'D',stipple:-.55},
{id:'h',col:2,row:1,field:fieldH,kind:'D',stipple:-.35},
{id:'i',col:3,row:1,field:fieldI,kind:'D',stipple:-.35},
{id:'j',col:0,row:2,field:fieldJ,kind:'D',stipple:-1},
{id:'k',col:1,row:2,field:fieldK,kind:'D',stipple:-.9},
{id:'l',col:2,row:2,field:fieldL,kind:'D',stipple:-.7},
{id:'m',col:3,row:2,field:fieldM,kind:'D',stipple:-1}];

const NS='http://www.w3.org/2000/svg';
const PW=312.6,PH=269.8;
const colX=c=>59.7+c*375;
const rowY=r=>[37,377.3,718.2][r];
const lonToX=lon=>(lon-135.48)*17.1;
const latToY=lat=>(lat-23.46)*17.07;
const traceX=v=>(v-179)/3;
const traceY=v=>(v-113)/3;
const clamp=(v,a,b)=>Math.max(a,Math.min(b,v));
function make(tag,attrs,parent){
  const el=document.createElementNS(NS,tag);
  for(const k in attrs)el.setAttribute(k,attrs[k]);
  if(parent)parent.appendChild(el);
  return el;
}
function polyPath(pts,close){
  return 'M'+pts.map(p=>traceX(p[0]).toFixed(1)+' '+traceY(p[1]).toFixed(1)).join('L')+(close?'Z':'');
}
const landD=polyPath(coastOutline,true)+polyPath(kangarooIsland,true)+polyPath(portPhillip,true);
document.getElementById('landClipPath').setAttribute('d',landD);

function sample(field,lon,lat){
  const gx=clamp(lon-136,0,17),gy=clamp(lat-24,0,15);
  const x0=Math.floor(gx),y0=Math.floor(gy),x1=Math.min(17,x0+1),y1=Math.min(15,y0+1);
  const fx=gx-x0,fy=gy-y0;
  const top=field[y0][x0]*(1-fx)+field[y0][x1]*fx;
  const bot=field[y1][x0]*(1-fx)+field[y1][x1]*fx;
  return top*(1-fy)+bot*fy;
}
const deltaBin=v=>clamp(Math.floor((v+5)/.5)+1,0,21);
const kelvinBin=v=>clamp(Math.floor((v-280)/2)+1,0,15);

const root=document.getElementById('panels');
panelGrid.forEach(p=>{
  const px=colX(p.col),py=rowY(p.row);
  const g=make('g',{transform:'translate('+px+' '+py+')'},root);
  
  

  // graticule: shows through the ocean on delta maps, on top of the land on the AGCD map
  const grid=make('g',{stroke:'#8c8c8c','stroke-width':1,'stroke-dasharray':'4 3',fill:'none'},g);
  
  
  lonTicks.forEach(lon=>{
    const line=make('line',{x1:lonToX(lon),x2:lonToX(lon),y1:0,y2:PH},grid);
    
    
  });
  latTicks.forEach(lat=>{
    const line=make('line',{x1:0,x2:PW,y1:latToY(lat),y2:latToY(lat)},grid);
    
    
  });

  const clipped=make('g',{'clip-path':'url(#landClip)'},g);
  
  
  const fieldGroup=make('g',{filter:'url(#soft)'},clipped);
  
  

  const colors=p.kind==='K'?kelvinColors:deltaColors;
  const binOf=p.kind==='K'?kelvinBin:deltaBin;
  const d=colors.map(()=>'');
  const step=.125;
  for(let lat=23.25;lat<39.75;lat+=step){
    const y0=latToY(lat),h=step*17.07+.3;
    let runStart=135.25,runBin=binOf(sample(p.field,135.25+step/2,lat+step/2));
    for(let lon=135.25;lon<=154;lon+=step){
      const b=lon>=154?-1:binOf(sample(p.field,lon+step/2,lat+step/2));
      if(b!==runBin){
        const x0=lonToX(runStart),w=(lon-runStart)*17.1+.3;
        d[runBin]+='M'+x0.toFixed(1)+' '+y0.toFixed(1)+'h'+w.toFixed(1)+'v'+h.toFixed(1)+'h'+(-w).toFixed(1)+'z';
        runStart=lon;runBin=b;
      }
    }
  }
  colors.forEach((c,i)=>{
    if(!d[i])return;
    const band=make('path',{d:d[i],fill:c},fieldGroup);
    
    
  });

  lakeSpecks.forEach(s=>{
    const lake=make('circle',{cx:traceX(s[0]),cy:traceY(s[1]),r:s[2]/3,fill:'#fff'},clipped);
    
    
  });

  if(p.kind==='K')g.appendChild(grid);

  // significance stippling, drawn from the field
  if(p.stipple!==null){
    let dots='';
    for(let j=0;j*7.35<PH;j++){
      for(let i=0;i*8<PW+8;i++){
        const x=3+i*8+(j%2?4:0),y=3+j*7.35;
        const lon=135.48+x/17.1,lat=23.46+y/17.07;
        if(sample(p.field,lon,lat)<p.stipple)dots+='M'+x.toFixed(1)+' '+y.toFixed(1)+'h0';
      }
    }
    const sg=make('path',{d:dots,stroke:'#05051a','stroke-width':2.8,'stroke-linecap':'round',fill:'none','clip-path':'url(#landClip)'},g);
    
    
  }

  if(p.row===2){
    const sliver=make('path',{d:'M0 0L5 0L0 43Z',fill:'#fff'},g);
    
    
  }

  const coast=make('path',{d:landD,fill:'none',stroke:'#777','stroke-width':1},g);
  
  
  borderLines.forEach(b=>{
    const bl=make('path',{d:polyPath(b,false),fill:'none',stroke:'#000','stroke-width':1.7},g);
    
    
  });
  const frame=make('rect',{x:0,y:0,width:PW,height:PH,fill:'none',stroke:'#9a9a9a','stroke-width':1.4},g);
  
  

  if(p.col===0){
    latTicks.forEach(lat=>{
      const t=make('text',{class:'lat',x:-2.5,y:latToY(lat)+5.3},g);
      
      
      t.textContent=lat+'°S';
    });
  }
  if(p.row===2){
    lonTicks.forEach(lon=>{
      const t=make('text',{class:'lon',x:lonToX(lon),y:285},g);
      
      
      t.textContent=lon+'°E';
    });
  }
});

// Colour bars
const fig=document.getElementById('fig');
const dx=v=>936.7+v*148.9;
const cbD=make('g',{},fig);


const underTri=make('polygon',{points:dx(-5)+',1027 '+dx(-5)+',1053 117,1040',fill:deltaColors[0]},cbD);


const overTri=make('polygon',{points:dx(5)+',1027 '+dx(5)+',1053 1755,1040',fill:deltaColors[21]},cbD);


deltaTicks.slice(0,-1).forEach((v,i)=>{
  const r=make('rect',{x:dx(v),y:1027,width:dx(deltaTicks[i+1])-dx(v)+.4,height:26,fill:deltaColors[i+1]},cbD);
  
  
});
const cbEdge=make('path',{d:'M'+dx(-5)+' 1027H'+dx(5)+'M'+dx(-5)+' 1053H'+dx(5),fill:'none',stroke:'#aaa','stroke-width':.8},cbD);


deltaTicks.forEach(v=>{
  const t=make('text',{x:dx(v),y:1068.5,'font-size':15.3,'text-anchor':'middle'},cbD);
  
  
  t.textContent=(v<0?'−':'')+Math.abs(v).toFixed(1);
});

const kx=v=>74+(v-280)*10.15;
const cbK=make('g',{},fig);


const kUnder=make('polygon',{points:kx(280)+',326 '+kx(280)+',332 60,329',fill:kelvinColors[0]},cbK);


const kOver=make('polygon',{points:kx(308)+',326 '+kx(308)+',332 372,329',fill:kelvinColors[15]},cbK);


for(let i=1;i<15;i++){
  const low=280+(i-1)*2;
  const r=make('rect',{x:kx(low),y:326,width:kx(low+2)-kx(low)+.3,height:6,fill:kelvinColors[i]},cbK);
  
  
}
kelvinTicks.forEach(v=>{
  const t=make('text',{x:kx(v),y:345,'font-size':10.7,'text-anchor':'middle'},cbK);
  
  
  t.textContent=v;
});
</script>
</body>
</html>
